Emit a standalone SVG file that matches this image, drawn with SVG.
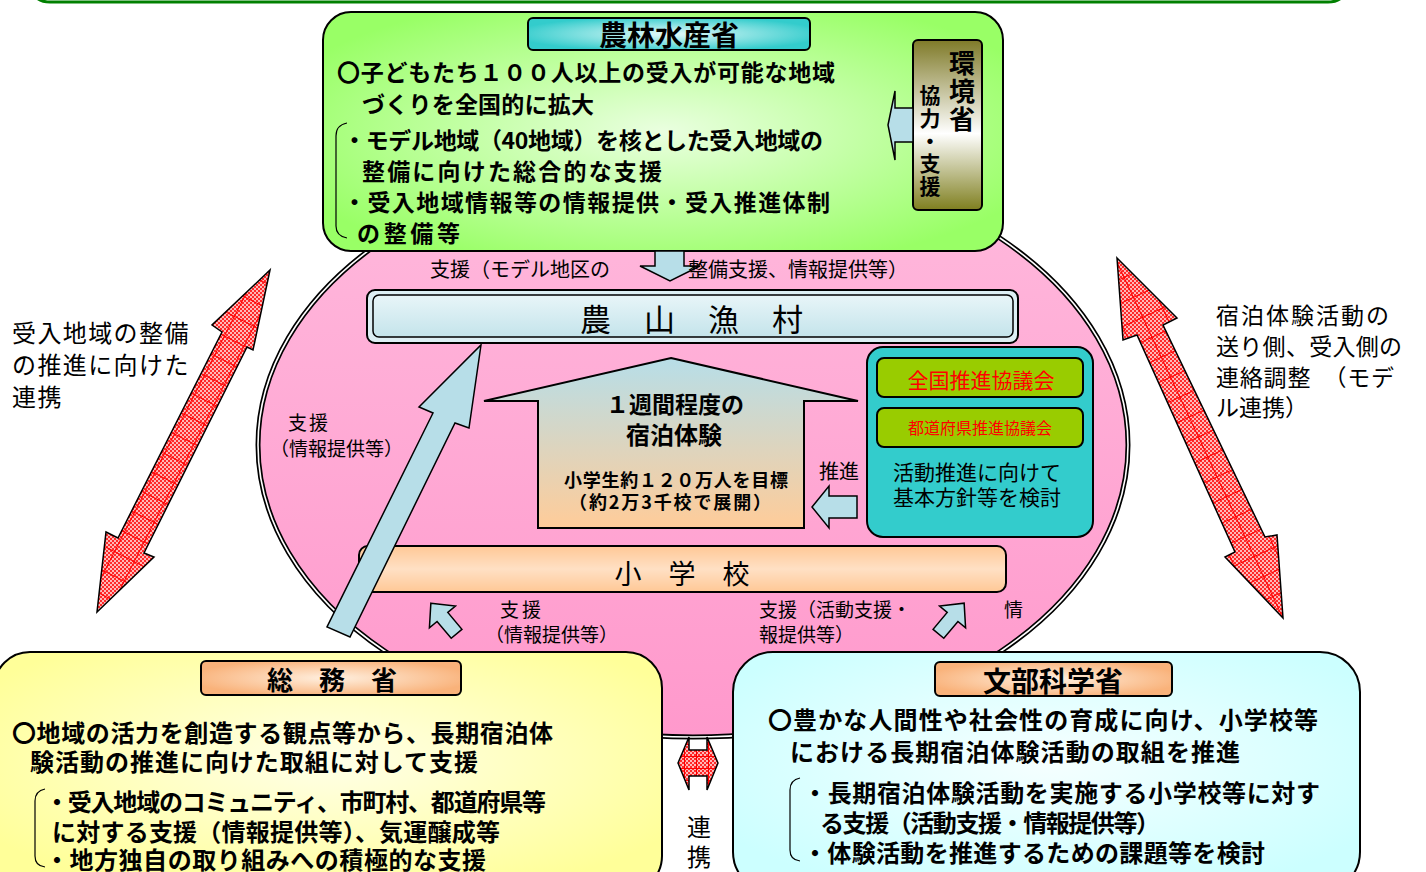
<svg xmlns="http://www.w3.org/2000/svg" width="1426" height="872" viewBox="0 0 1426 872">
<defs>
<style>
text{font-family:"Noto Sans CJK JP","Noto Sans CJK SC",sans-serif;fill:#000}
.b{font-weight:bold}
.s{stroke:#000;stroke-width:2}
.lb{fill:#B7DEE8;stroke:#000;stroke-width:1.5;stroke-linejoin:miter}
.red{fill:#FF0000}
.brk{fill:none;stroke:#000;stroke-width:1.2}
.rarrow{stroke:#000;stroke-width:1.5;stroke-linejoin:miter}
.vt{writing-mode:vertical-rl}
</style>
<linearGradient id="gPink" x1="0" y1="0" x2="0" y2="1"><stop offset="0" stop-color="#FFBADD"/><stop offset="1" stop-color="#FF99CC"/></linearGradient>
<radialGradient id="gGreen" cx="0.5" cy="0.5" r="0.6"><stop offset="0" stop-color="#EAFFE0"/><stop offset="1" stop-color="#99FF66"/></radialGradient>
<radialGradient id="gTeal" cx="0.5" cy="0.5" r="0.55"><stop offset="0" stop-color="#E6FAFA"/><stop offset="1" stop-color="#33CCCC"/></radialGradient>
<linearGradient id="gOlive" x1="0" y1="0" x2="0" y2="1"><stop offset="0" stop-color="#7F7A28"/><stop offset="0.55" stop-color="#FFFFFF"/><stop offset="1" stop-color="#7F7F1F"/></linearGradient>
<linearGradient id="gVillage" x1="0" y1="0" x2="0" y2="1"><stop offset="0" stop-color="#E8F5F8"/><stop offset="1" stop-color="#C4E4EB"/></linearGradient>
<linearGradient id="gHouse" x1="0" y1="0" x2="0" y2="1"><stop offset="0" stop-color="#B7DEE8"/><stop offset="1" stop-color="#FFCC99"/></linearGradient>
<linearGradient id="gSchool" x1="0" y1="0" x2="0" y2="1"><stop offset="0" stop-color="#FFC896"/><stop offset="0.5" stop-color="#FFE0C4"/><stop offset="1" stop-color="#FFC896"/></linearGradient>
<radialGradient id="gYellow" cx="0.5" cy="0.45" r="0.6"><stop offset="0" stop-color="#FFFFE8"/><stop offset="1" stop-color="#FFFF99"/></radialGradient>
<radialGradient id="gCyan" cx="0.5" cy="0.45" r="0.6"><stop offset="0" stop-color="#F6FFFF"/><stop offset="1" stop-color="#CCFFFF"/></radialGradient>
<radialGradient id="gPeach" cx="0.5" cy="0.5" r="0.55"><stop offset="0" stop-color="#FFF0E0"/><stop offset="1" stop-color="#F9B27A"/></radialGradient>
<pattern id="chk" width="4" height="4" patternUnits="userSpaceOnUse"><rect width="4" height="4" fill="#FFB8B8"/><rect width="2" height="2" fill="#FF2A2A"/><rect x="2" y="2" width="2" height="2" fill="#FF2A2A"/></pattern>
<pattern id="gridL" width="22" height="22" patternUnits="userSpaceOnUse" patternTransform="rotate(-63)"><path d="M0 0.5H22M0.5 0V22" stroke="#FF0000" stroke-width="1" fill="none"/></pattern>
<pattern id="gridR" width="22" height="22" patternUnits="userSpaceOnUse" patternTransform="rotate(65)"><path d="M0 0.5H22M0.5 0V22" stroke="#FF0000" stroke-width="1" fill="none"/></pattern>
<pattern id="gridC" width="12" height="12" patternUnits="userSpaceOnUse"><path d="M0 0.5H12M0.5 0V12" stroke="#FF0000" stroke-width="1" fill="none"/></pattern>
</defs>

<g id="frame">
<path d="M30,-22 Q30,2 50,2 H1328 Q1348,2 1348,-22" fill="none" stroke="#008000" stroke-width="3"/>
</g>

<g id="area">
<ellipse cx="693" cy="445" rx="435" ry="292" fill="url(#gPink)" stroke="#000" stroke-width="5"/>
<ellipse cx="693" cy="445" rx="435" ry="292" fill="none" stroke="#FFFFFF" stroke-width="1.6"/>
</g>

<g id="maff">
<rect x="323" y="12" width="680" height="239" rx="28" fill="url(#gGreen)" class="s"/>
<rect x="528" y="18" width="282" height="32" rx="5" fill="url(#gTeal)" class="s"/>
<text x="669" y="46" font-size="28" class="b" text-anchor="middle">農林水産省</text>
<text x="337" y="81" font-size="23" class="b" textLength="498">〇子どもたち１００人以上の受入が可能な地域</text>
<text x="362" y="113" font-size="23" class="b" textLength="232">づくりを全国的に拡大</text>
<text x="343" y="149" font-size="23" class="b" textLength="480">・モデル地域（40地域）を核とした受入地域の</text>
<text x="362" y="180" font-size="23" class="b" textLength="300">整備に向けた総合的な支援</text>
<text x="343" y="211" font-size="23" class="b" textLength="487">・受入地域情報等の情報提供・受入推進体制</text>
<text x="357" y="242" font-size="23" class="b" textLength="103">の整備等</text>
<path class="brk" d="M347,123 Q336,125 336,136 V226 Q336,236 347,238"/>
</g>

<g id="moe">
<rect x="913" y="40" width="69" height="170" rx="5" fill="url(#gOlive)" class="s"/>
<text class="b vt" x="962" y="50" font-size="26" letter-spacing="2">環境省</text>
<text class="b vt" x="930" y="85" font-size="21" letter-spacing="1.6">協力・支援</text>
</g>

<g id="village">
<rect x="367" y="290" width="651" height="53" rx="8" fill="#DDEFF4" class="s"/>
<rect x="373" y="295" width="640" height="42" rx="6" fill="url(#gVillage)" stroke="#000" stroke-width="1.5"/>
<text x="692" y="331" font-size="31" text-anchor="middle" letter-spacing="1">農　山　漁　村</text>
</g>

<g id="stay">
<polygon points="671,358 858,401 804,401 804,528 538,528 538,401 484,401" fill="url(#gHouse)" class="s"/>
<text x="675" y="413" font-size="23" class="b" text-anchor="middle">１週間程度の</text>
<text x="674" y="444" font-size="24" class="b" text-anchor="middle">宿泊体験</text>
<text x="676" y="487" font-size="18" class="b" text-anchor="middle" textLength="224">小学生約１２０万人を目標</text>
<text x="670" y="509" font-size="18" class="b" text-anchor="middle" textLength="202">（約2万3千校で展開）</text>
</g>

<g id="council">
<rect x="867" y="347" width="226" height="190" rx="16" fill="#33CCCC" class="s"/>
<rect x="877" y="358" width="206" height="39" rx="7" fill="#99CC00" class="s"/>
<text class="red" x="981" y="388" font-size="21" text-anchor="middle">全国推進協議会</text>
<rect x="877" y="408" width="206" height="39" rx="7" fill="#99CC00" class="s"/>
<text class="red" x="980" y="434" font-size="16" text-anchor="middle">都道府県推進協議会</text>
<text x="893" y="480" font-size="21">活動推進に向けて</text>
<text x="893" y="505" font-size="21">基本方針等を検討</text>
</g>

<g id="school">
<rect x="359" y="546" width="647" height="46" rx="9" fill="url(#gSchool)" class="s"/>
<text x="682" y="584" font-size="27" text-anchor="middle">小　学　校</text>
</g>

<g id="soumu">
<rect x="-6" y="652" width="668" height="240" rx="36" fill="url(#gYellow)" class="s"/>
<rect x="201" y="661" width="260" height="34" rx="5" fill="url(#gPeach)" class="s"/>
<text x="332" y="690" font-size="26" class="b" text-anchor="middle">総　務　省</text>
<text x="12" y="742" font-size="24" class="b" textLength="541">〇地域の活力を創造する観点等から、長期宿泊体</text>
<text x="30" y="771" font-size="24" class="b" textLength="448">験活動の推進に向けた取組に対して支援</text>
<text x="45" y="811" font-size="24" class="b" textLength="501">・受入地域のコミュニティ、市町村、都道府県等</text>
<text x="52" y="841" font-size="24" class="b" textLength="448">に対する支援（情報提供等）、気運醸成等</text>
<text x="45" y="869" font-size="24" class="b" textLength="441">・地方独自の取り組みへの積極的な支援</text>
<path class="brk" d="M45,789 Q35,791 35,801 V856 Q35,866 45,867"/>
</g>

<g id="mext">
<rect x="733" y="652" width="627" height="240" rx="40" fill="url(#gCyan)" class="s"/>
<rect x="935" y="662" width="237" height="34" rx="5" fill="url(#gPeach)" class="s"/>
<text x="1053" y="692" font-size="28" class="b" text-anchor="middle">文部科学省</text>
<text x="768" y="729" font-size="24" class="b" textLength="550">〇豊かな人間性や社会性の育成に向け、小学校等</text>
<text x="790" y="761" font-size="24" class="b" textLength="450">における長期宿泊体験活動の取組を推進</text>
<text x="803" y="802" font-size="24" class="b" textLength="517">・長期宿泊体験活動を実施する小学校等に対す</text>
<text x="820" y="832" font-size="24" class="b" textLength="340">る支援（活動支援・情報提供等）</text>
<text x="803" y="862" font-size="24" class="b" textLength="462">・体験活動を推進するための課題等を検討</text>
<path class="brk" d="M800,778 Q790,780 790,790 V850 Q790,860 800,861"/>
</g>

<g id="connectors">
<polygon class="lb" points="888,125 895,91 895,108 913,108 913,142 895,142 895,160"/>
<polygon class="lb" points="655,251 684,251 684,266 700,266 670,281 640,266 655,266"/>
<polygon class="lb" points="812,507 829,486 829,496 857,496 857,518 829,518 829,528"/>
<polygon class="lb" points="481,345 469,428 455,423 350,637 327,627 433,413 419,407"/>
<polygon class="lb" transform="translate(445,620) rotate(-40)" points="0,-22 17,-4 7,-4 7,18 -7,18 -7,-4 -17,-4"/>
<polygon class="lb" transform="translate(950,620) rotate(40)" points="0,-22 17,-4 7,-4 7,18 -7,18 -7,-4 -17,-4"/>
<g>
<polygon fill="url(#chk)" points="270,270 253,350 247,347 144,553 154,557 97,612 106,532 118,538 222,332 212,325"/>
<polygon fill="url(#gridL)" class="rarrow" points="270,270 253,350 247,347 144,553 154,557 97,612 106,532 118,538 222,332 212,325"/>
</g>
<g>
<polygon fill="url(#chk)" points="1117,258 1177,318 1163,325 1265,537 1277,535 1283,618 1225,557 1235,552 1137,335 1123,340"/>
<polygon fill="url(#gridR)" class="rarrow" points="1117,258 1177,318 1163,325 1265,537 1277,535 1283,618 1225,557 1235,552 1137,335 1123,340"/>
</g>
<g>
<polygon fill="url(#chk)" points="678,763 689,737 689,750 707,750 707,737 718,763 707,790 707,776 689,776 689,790"/>
<polygon fill="url(#gridC)" class="rarrow" points="678,763 689,737 689,750 707,750 707,737 718,763 707,790 707,776 689,776 689,790"/>
</g>
</g>

<g id="labels">
<text x="430" y="277" font-size="20">支援（モデル地区の</text>
<text x="688" y="277" font-size="20">整備支援、情報提供等）</text>
<text x="288" y="430" font-size="19" letter-spacing="2">支援</text>
<text x="270" y="456" font-size="19">（情報提供等）</text>
<text x="819" y="479" font-size="20">推進</text>
<text x="500" y="617" font-size="19" letter-spacing="3">支援</text>
<text x="485" y="642" font-size="19">（情報提供等）</text>
<text x="759" y="617" font-size="19">支援（活動支援・</text>
<text x="759" y="642" font-size="19">報提供等）</text>
<text x="1004" y="617" font-size="19">情</text>
<text x="12" y="342" font-size="24" letter-spacing="1.4">受入地域の整備</text>
<text x="12" y="374" font-size="24" letter-spacing="1.4">の推進に向けた</text>
<text x="12" y="406" font-size="24" letter-spacing="1.4">連携</text>
<text x="1216" y="324" font-size="23" letter-spacing="2">宿泊体験活動の</text>
<text x="1216" y="355" font-size="23" letter-spacing="0.3">送り側、受入側の</text>
<text x="1216" y="386" font-size="23" letter-spacing="0.8">連絡調整　（モデ</text>
<text x="1216" y="416" font-size="23">ル連携）</text>
<text x="699" y="836" font-size="24" text-anchor="middle">連</text>
<text x="699" y="866" font-size="24" text-anchor="middle">携</text>
</g>
</svg>
